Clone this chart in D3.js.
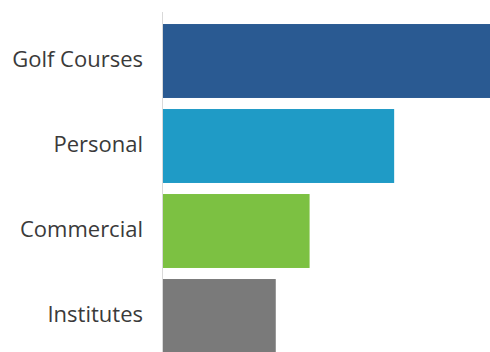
<!DOCTYPE html>
<html><head><meta charset="utf-8">
<script src="https://cdn.jsdelivr.net/npm/d3@7"></script>
<style>html,body{margin:0;padding:0;background:#fff;}svg{display:block;}</style>
</head><body>
<svg id="chart" width="490" height="352"></svg>
<script>
const categories = ["Golf Courses", "Personal", "Commercial", "Institutes"];
const values = [58, 41, 26, 20];
const colors = ["#2a5a92", "#1f9bc6", "#7cc142", "#7a7a7a"];

const svg = d3.select("#chart");
const x0 = 163;
const x = d3.scaleLinear().domain([0, 58]).range([x0, 490]);
const y = d3.scaleBand().domain(categories).range([18.5, 358.5]).paddingInner(0.13).paddingOuter(0.065);

svg.append("line").attr("x1", x0 - 0.5).attr("x2", x0 - 0.5).attr("y1", 12).attr("y2", 352)
  .attr("stroke", "#d9d9d9").attr("stroke-width", 1);

svg.selectAll("rect.bar").data(categories).join("rect").attr("class", "bar")
  .attr("x", x(0)).attr("y", d => y(d))
  .attr("width", (d, i) => x(values[i]) - x(0))
  .attr("height", y.bandwidth())
  .attr("fill", (d, i) => colors[i]);

const axis = d3.axisLeft(y).tickSize(0).tickPadding(20);
const g = svg.append("g").attr("transform", `translate(${x0},-1)`).call(axis);
g.select(".domain").remove();
g.selectAll("text").attr("font-family", "'Open Sans', sans-serif").attr("font-size", 22).attr("fill", "#3a3a3a");
</script>
</body></html>
